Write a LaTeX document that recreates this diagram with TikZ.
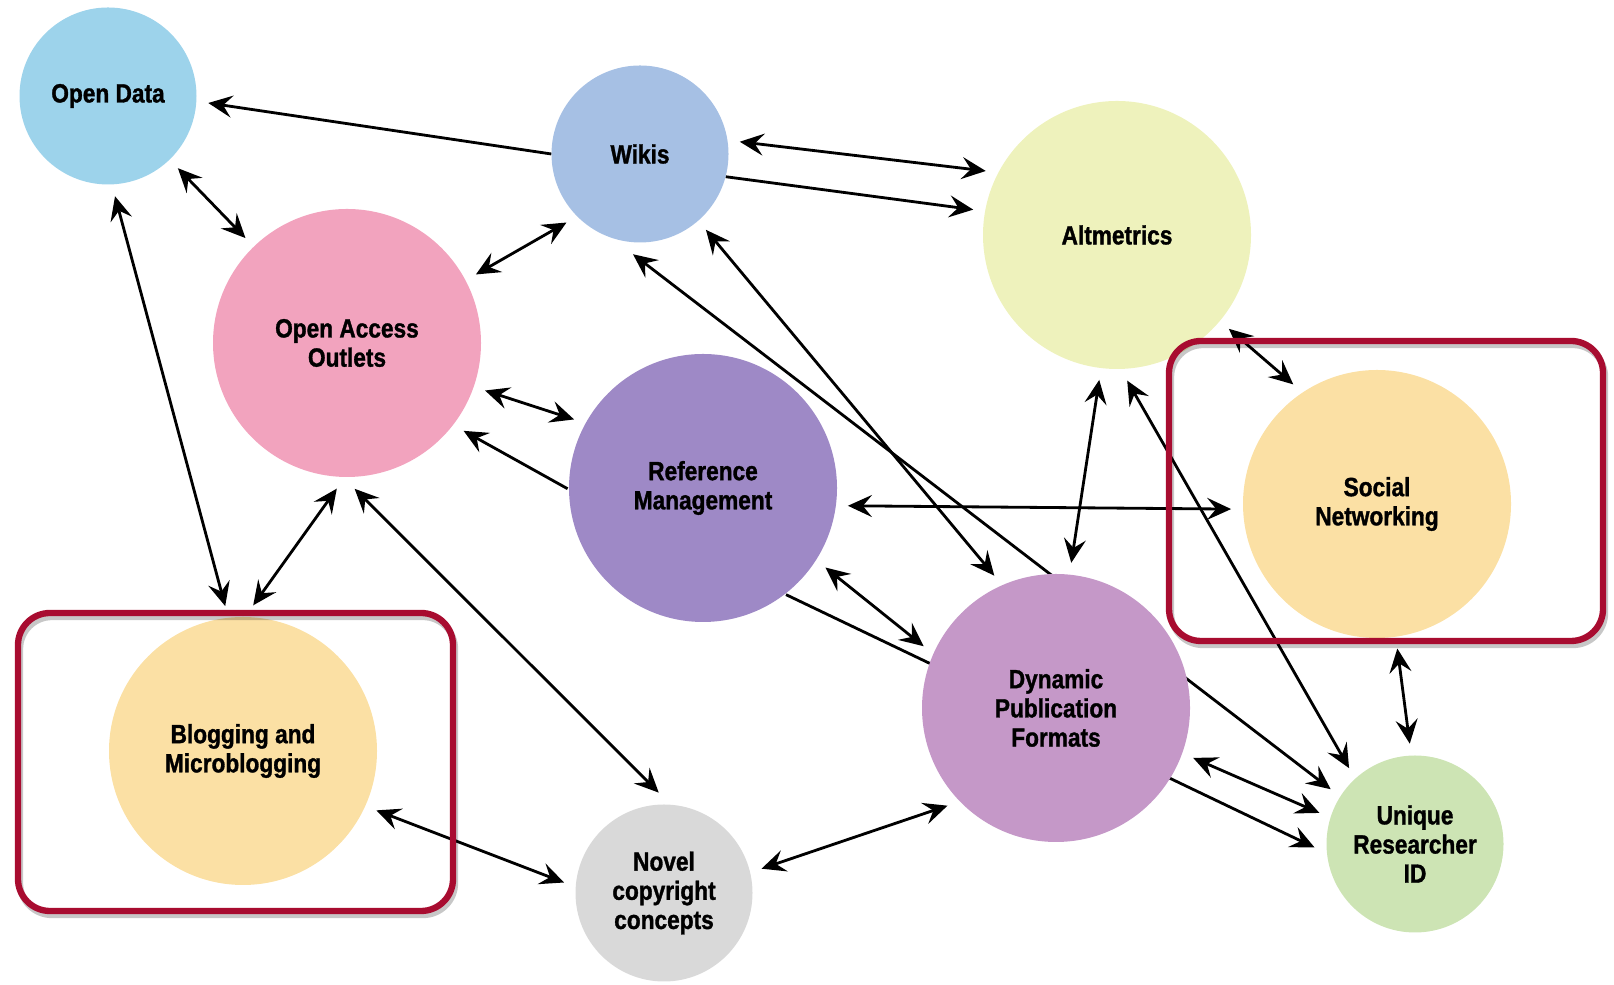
\documentclass[tikz,border=0pt]{standalone}
\usepackage{fontspec}
\setmainfont{Liberation Sans}[FakeStretch=0.86, BoldFeatures={FakeBold=1.2}]
\usepackage{xcolor}
\usepackage{tikz}
\usetikzlibrary{arrows.meta,positioning}

\definecolor{cData}{RGB}{157,211,235}
\definecolor{cWiki}{RGB}{166,192,228}
\definecolor{cAlt}{RGB}{238,242,188}
\definecolor{cOpen}{RGB}{242,163,190}
\definecolor{cRef}{RGB}{158,137,198}
\definecolor{cSocial}{RGB}{251,224,164}
\definecolor{cDyn}{RGB}{197,152,200}
\definecolor{cNovel}{RGB}{217,217,217}
\definecolor{cUnique}{RGB}{205,228,180}
\definecolor{hilite}{RGB}{168,12,48}

\pgfdeclarelayer{background}
\pgfsetlayers{background,main}

\begin{document}
\begin{tikzpicture}[
  on grid,
  topic/.style={circle, draw=none, inner sep=0pt, outer sep=0.12cm, align=center, text=black, font=\bfseries\fontsize{7.5}{8.3}\selectfont},
  small/.style={topic, minimum size=1.77cm},
  big/.style={topic, minimum size=2.68cm},
  tip/.style={>={Stealth[length=2.4mm,width=2.2mm,inset=0.9mm]}},
  link/.style={tip, <->, line width=0.8pt},
  oneway/.style={tip, ->, line width=0.8pt, shorten <=-0.12cm},
  frame/.style={draw=hilite, line width=1.8pt, rounded corners=0.32cm},
  frameshadow/.style={draw=black, opacity=0.22, line width=1.8pt, rounded corners=0.32cm}
]
\useasboundingbox (0,0) rectangle (16.14,9.85);

% Top row
\node[small, fill=cData] (opendata) at (1.08,8.89) {Open Data};
\node[small, fill=cWiki, below right=0.58cm and 5.32cm of opendata] (wikis) {Wikis};
\node[big, fill=cAlt, below right=0.81cm and 4.77cm of wikis] (altmetrics) {Altmetrics};

% Middle
\node[big, fill=cOpen, below right=2.47cm and 2.39cm of opendata] (openaccess) {Open Access\\Outlets};
\node[big, fill=cRef, below right=1.45cm and 3.56cm of openaccess] (refmgmt) {Reference\\Management};
\node[big, fill=cSocial, below right=0.16cm and 6.74cm of refmgmt] (social) {Social\\Networking};

% Bottom row
\node[big, fill=cSocial, below left=4.08cm and 1.04cm of openaccess] (blogging) {Blogging and\\Microblogging};
\node[big, fill=cDyn, below right=2.20cm and 3.53cm of refmgmt] (dynamic) {Dynamic\\Publication\\Formats};
\node[small, fill=cNovel, below left=4.05cm and 0.39cm of refmgmt] (novel) {Novel\\copyright\\concepts};
\node[small, fill=cUnique, below right=3.40cm and 0.38cm of social] (unique) {Unique\\Researcher\\ID};

% Connectors (behind the circles)
\begin{pgfonlayer}{background}
\draw[oneway] (wikis.179) -- (opendata.-4);
\draw[link] (opendata) -- (openaccess);
\draw[link] (opendata.-86) -- (blogging.97);
\draw[link] (blogging.86) -- (openaccess.-94);
\draw[link] (openaccess.28) -- (wikis.-137);
\draw[link] (wikis.7) -- (altmetrics.154);
\draw[oneway] (wikis.-14) -- (altmetrics.170);
\draw[link] (openaccess.-19) -- (refmgmt.152);
\draw[oneway] (refmgmt.178) -- (openaccess.-37);
\draw[link] (openaccess.-87) -- (novel.93);
\draw[link] (blogging.-24) -- (novel.174);
\draw[link] (refmgmt.-7) -- (social.182);
\draw[link] (wikis.-94) -- (unique.147);
\draw[link] (wikis.-49) -- (dynamic.115);
\draw[link] (refmgmt.-33) -- (dynamic.155);
\draw[oneway] (refmgmt.-50) -- (unique.182);
\draw[link] (dynamic.84) -- (altmetrics.-97);
\draw[link] (altmetrics.-86) -- (unique.131);
\draw[link] (altmetrics.-40) -- (social.125);
\draw[link] (social.-82) -- (unique.93);
\draw[link] (dynamic.-20) -- (unique.162);
\draw[link] (novel.14) -- (dynamic.-138);
\end{pgfonlayer}

% Highlight frames
\draw[frameshadow] (0.20,0.70) rectangle (4.55,3.68);
\draw[frameshadow] (11.71,3.40) rectangle (16.05,6.40);
\draw[frame] (0.18,0.74) rectangle (4.53,3.72);
\draw[frame] (11.69,3.44) rectangle (16.03,6.44);

\end{tikzpicture}
\end{document}
